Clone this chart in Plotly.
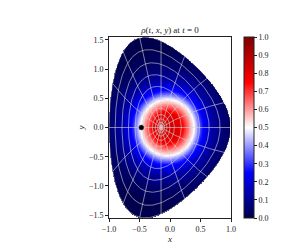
import numpy as np
import plotly.graph_objects as go

# Czarny mapping parameters (read from shape of domain)
EPS = 0.3
ELONG = 1.4

# grid lines of the mapped polar mesh
grid_r = [0.03, 0.06, 0.1, 0.15, 0.22, 0.33, 0.47, 0.6, 0.73, 0.87, 1.0]
n_spokes = 16

# density profile (elliptic distance -> rho)
blob_center = (-0.04, 0.0)
blob_axes = (0.44, 0.48)
profile_d = [0.0, 0.5, 1.0, 1.3, 1.7, 2.2, 2.8, 6.0]
profile_rho = [0.85, 0.80, 0.50, 0.27, 0.12, 0.04, 0.0, 0.0]

marker_pt = (-0.47, 0.0)

x_ticks = [-1.0, -0.5, 0.0, 0.5, 1.0]
y_ticks = [-1.5, -1.0, -0.5, 0.0, 0.5, 1.0, 1.5]
cb_ticks = [0.0, 0.1, 0.2, 0.3, 0.4, 0.5, 0.6, 0.7, 0.8, 0.9, 1.0]

XI = 1.0 / np.sqrt(1 - EPS**2 / 4)


def czarny(r, th):
    s = np.sqrt(1 + EPS * (EPS + 2 * r * np.cos(th)))
    return (1 - s) / EPS, ELONG * XI * r * np.sin(th) / (2 - s)


# field on cartesian pixels, masked outside the domain
xs = np.linspace(-1.0, 1.0, 300)
ys = np.linspace(-1.55, 1.55, 466)
X, Y = np.meshgrid(xs, ys)
S = 1 - EPS * X
RC = (S**2 - 1 - EPS**2) / (2 * EPS)
RS = Y * (2 - S) / (ELONG * XI)
R = np.sqrt(RC**2 + RS**2)
D = np.sqrt(((X - blob_center[0]) / blob_axes[0])**2 + ((Y - blob_center[1]) / blob_axes[1])**2)
Z = np.interp(D, profile_d, profile_rho)
Z = np.where(R <= 1.0, Z, np.nan)

seismic = [[0.0, 'rgb(0,0,77)'], [0.25, 'rgb(0,0,255)'], [0.5, 'rgb(255,255,255)'],
           [0.75, 'rgb(255,0,0)'], [1.0, 'rgb(128,0,0)']]

fig = go.Figure()
fig.add_trace(go.Heatmap(
    x=xs, y=ys, z=Z, zmin=0, zmax=1, colorscale=seismic, hoverinfo='skip',
    colorbar=dict(x=(236 - 101) / 122, xanchor='left', y=0.5, yanchor='middle',
                  len=1.0, lenmode='fraction', thickness=10, thicknessmode='pixels',
                  outlinewidth=1, outlinecolor='#222', ypad=0, xpad=0,
                  tickvals=cb_ticks, ticktext=[f"{v:.1f}" for v in cb_ticks],
                  ticks='outside', ticklen=3, tickcolor='#222',
                  tickfont=dict(family='Liberation Serif', size=8, color='#222')),
))

# mesh lines
gx, gy = [], []
th = np.linspace(0, 2 * np.pi, 241)
for r in grid_r:
    px, py = czarny(r, th)
    gx += list(px) + [None]
    gy += list(py) + [None]
rr = np.linspace(0, 1, 60)
for k in range(n_spokes):
    t = 2 * np.pi * k / n_spokes
    px, py = czarny(rr, np.full_like(rr, t))
    gx += list(px) + [None]
    gy += list(py) + [None]
fig.add_trace(go.Scatter(x=gx, y=gy, mode='lines', hoverinfo='skip', showlegend=False,
                         line=dict(color='rgba(215,215,215,0.85)', width=0.7)))

fig.add_trace(go.Scatter(x=[marker_pt[0]], y=[marker_pt[1]], mode='markers', showlegend=False,
                         hoverinfo='skip',
                         marker=dict(color='black', size=5, line=dict(color='#555', width=0.5))))

axis_common = dict(showgrid=False, zeroline=False, showline=True, linecolor='#222', linewidth=1,
                   mirror=True, ticks='outside', ticklen=3, tickcolor='#222',
                   tickfont=dict(family='Liberation Serif', size=8, color='#222'))
fig.update_layout(
    width=287, height=246, margin=dict(l=101, r=64, t=29, b=28),
    paper_bgcolor='white', plot_bgcolor='white', showlegend=False,
    title=dict(text='<i>ρ</i>(<i>t</i>, <i>x</i>, <i>y</i>) at <i>t</i> = 0', x=(162) / 287,
               xanchor='center', y=1 - 22 / 246, yanchor='middle',
               font=dict(family='Liberation Serif', size=9, color='#222')),
    xaxis=dict(range=[-1.0, 1.0], tickvals=x_ticks,
               ticktext=[f"{v:.1f}".replace('-', '−') for v in x_ticks],
               title=dict(text='<i>x</i>', standoff=2,
                          font=dict(family='Liberation Serif', size=9, color='#222')),
               **axis_common),
    yaxis=dict(range=[-1.549, 1.549], tickvals=y_ticks,
               ticktext=[f"{v:.1f}".replace('-', '−') for v in y_ticks],
               title=dict(text='<i>y</i>', standoff=2,
                          font=dict(family='Liberation Serif', size=9, color='#222')),
               **axis_common),
)

fig.write_html("out.html")
